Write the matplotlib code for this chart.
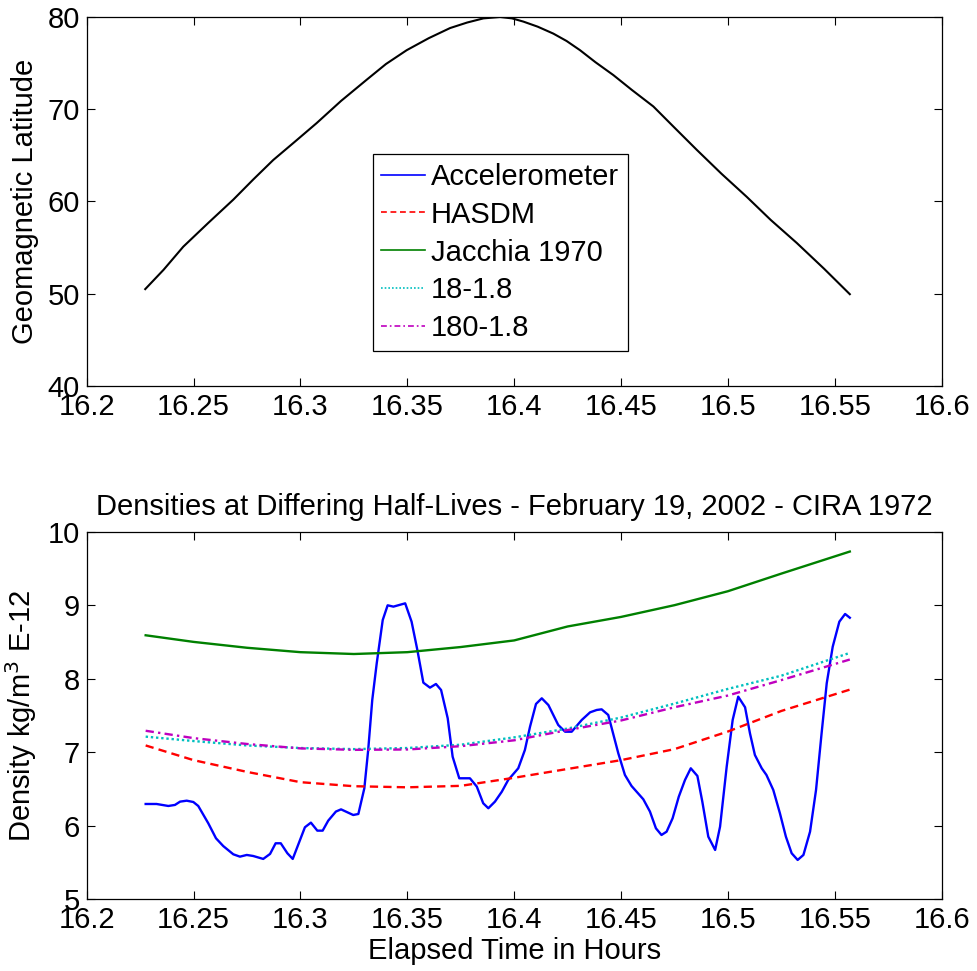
import numpy as np
import matplotlib
matplotlib.use('Agg')
import matplotlib.pyplot as plt

plt.rcParams['font.family'] = ['Liberation Sans', 'DejaVu Sans']

# x axis ticks (hours)
xticks = [16.2, 16.25, 16.3, 16.35, 16.4, 16.45, 16.5, 16.55, 16.6]
xtick_labels = ['16.2', '16.25', '16.3', '16.35', '16.4', '16.45', '16.5', '16.55', '16.6']

# top panel: geomagnetic latitude
lat_time = [16.2274, 16.236, 16.2452, 16.257, 16.2686, 16.278, 16.2873, 16.2975,
            16.3076, 16.319, 16.331, 16.340, 16.3497, 16.360, 16.370, 16.378,
            16.3856, 16.3934, 16.399, 16.4043, 16.411, 16.4183, 16.4245, 16.4308,
            16.438, 16.4464, 16.455, 16.4651, 16.475, 16.4854, 16.497, 16.5088,
            16.520, 16.5322, 16.545, 16.557]
lat_deg = [50.5, 52.6, 55.1, 57.7, 60.2, 62.4, 64.5, 66.5,
           68.5, 70.9, 73.2, 74.9, 76.4, 77.7, 78.8, 79.4,
           79.85, 80.0, 79.85, 79.5, 78.95, 78.2, 77.4, 76.4,
           75.1, 73.7, 72.1, 70.3, 68.0, 65.6, 63.0, 60.5,
           58.0, 55.5, 52.7, 49.95]

# bottom panel: model densities (common time grid)
model_time = [16.2276, 16.25, 16.275, 16.30, 16.325, 16.35, 16.375, 16.40,
              16.425, 16.45, 16.475, 16.50, 16.525, 16.557]
hasdm = [7.09, 6.89, 6.73, 6.59, 6.535, 6.52, 6.54, 6.65,
         6.77, 6.89, 7.04, 7.28, 7.56, 7.85]
jacchia = [8.59, 8.50, 8.42, 8.36, 8.335, 8.36, 8.43, 8.52,
           8.71, 8.84, 9.00, 9.19, 9.43, 9.73]
hl_18 = [7.21, 7.15, 7.09, 7.055, 7.04, 7.055, 7.10, 7.20,
         7.32, 7.47, 7.66, 7.86, 8.04, 8.35]
hl_180 = [7.29, 7.19, 7.11, 7.05, 7.03, 7.035, 7.08, 7.16,
          7.30, 7.43, 7.61, 7.77, 7.98, 8.26]

# accelerometer density
acc_time = [16.2276, 16.2327, 16.2382, 16.2413, 16.2437, 16.2468, 16.2499, 16.2522,
            16.2569, 16.2605, 16.2639, 16.2686, 16.2717, 16.2749, 16.2779, 16.2826,
            16.2858, 16.2884, 16.2908, 16.2939, 16.2964, 16.3021, 16.3049, 16.3079,
            16.3104, 16.313, 16.3166, 16.319, 16.3247, 16.3271, 16.3299, 16.3317,
            16.3336, 16.3357, 16.3385, 16.3408, 16.3435, 16.349, 16.352, 16.3547,
            16.3575, 16.3606, 16.3634, 16.3658, 16.3689, 16.3712, 16.3743, 16.3793,
            16.3825, 16.3855, 16.3879, 16.391, 16.3942, 16.3972, 16.4019, 16.405,
            16.4074, 16.4102, 16.4129, 16.416, 16.4206, 16.4238, 16.4269, 16.4316,
            16.4355, 16.4386, 16.4409, 16.444, 16.4487, 16.4518, 16.4549, 16.4604,
            16.4635, 16.4663, 16.4689, 16.4713, 16.4741, 16.477, 16.4799, 16.4826,
            16.4857, 16.488, 16.4908, 16.494, 16.4963, 16.4994, 16.5022, 16.5048,
            16.508, 16.5103, 16.5126, 16.5158, 16.518, 16.5212, 16.5243, 16.5271,
            16.5298, 16.5326, 16.5353, 16.5384, 16.5412, 16.5438, 16.5462, 16.549,
            16.5521, 16.5548, 16.557]
acc_dens = [6.293, 6.293, 6.266, 6.28, 6.325, 6.338, 6.32, 6.266,
            6.03, 5.826, 5.72, 5.608, 5.576, 5.599, 5.585, 5.545,
            5.613, 5.758, 5.758, 5.622, 5.545, 5.976, 6.039, 5.93,
            5.93, 6.066, 6.19, 6.22, 6.143, 6.157, 6.507, 7.028,
            7.709, 8.21, 8.798, 8.998, 8.98, 9.025, 8.775, 8.39,
            7.945, 7.877, 7.927, 7.845, 7.46, 6.937, 6.643, 6.643,
            6.53, 6.303, 6.235, 6.325, 6.46, 6.62, 6.779, 7.028,
            7.345, 7.655, 7.732, 7.64, 7.369, 7.277, 7.277, 7.437,
            7.541, 7.573, 7.582, 7.505, 6.983, 6.688, 6.538, 6.357,
            6.19, 5.962, 5.871, 5.916, 6.098, 6.393, 6.62, 6.779,
            6.675, 6.325, 5.848, 5.667, 5.984, 6.8, 7.437, 7.754,
            7.61, 7.254, 6.96, 6.779, 6.688, 6.484, 6.167, 5.848,
            5.622, 5.531, 5.599, 5.916, 6.484, 7.255, 7.936, 8.434,
            8.775, 8.88, 8.829]

FS = 21

fig = plt.figure(figsize=(9.77, 9.71), dpi=100)
ax1 = fig.add_axes([0.0887, 0.6025, 0.8752, 0.38])
ax2 = fig.add_axes([0.0887, 0.0742, 0.8752, 0.3782])

ax1.plot(lat_time, lat_deg, color='k', lw=1.5)
ax1.set_ylim(40, 80)
ax1.set_yticks([40, 50, 60, 70, 80])
ax1.set_ylabel('Geomagnetic Latitude', fontsize=FS, labelpad=6)

l_acc, = ax2.plot(acc_time, acc_dens, color='b', lw=1.7, label='Accelerometer')
l_has, = ax2.plot(model_time, hasdm, color='r', lw=1.7, dashes=(3.5, 2.2), label='HASDM')
l_jac, = ax2.plot(model_time, jacchia, color='#008000', lw=1.7, label='Jacchia 1970')
l_18, = ax2.plot(model_time, hl_18, color='#00bfbf', lw=1.7, dashes=(1, 1.2), label='18-1.8')
l_180, = ax2.plot(model_time, hl_180, color='#bf00bf', lw=1.7, dashes=(3.5, 1.8, 1, 1.8), label='180-1.8')
ax2.set_ylim(5, 10)
ax2.set_yticks([5, 6, 7, 8, 9, 10])
ax2.set_ylabel('Density kg/m$^3$ E-12', fontsize=FS, labelpad=6)
ax2.set_xlabel('Elapsed Time in Hours', fontsize=FS, labelpad=2)
ax2.set_title('Densities at Differing Half-Lives - February 19, 2002 - CIRA 1972',
              fontsize=FS, pad=12)

for ax in (ax1, ax2):
    ax.set_xlim(16.2, 16.6)
    ax.set_xticks(xticks)
    ax.set_xticklabels(xtick_labels)
    ax.tick_params(direction='in', top=True, right=True, length=6, width=0.8,
                   labelsize=FS, pad=5)
    for s in ax.spines.values():
        s.set_linewidth(0.9)

handles = [l_acc, l_has, l_jac, l_18, l_180]
leg = ax1.legend(handles, [h.get_label() for h in handles], loc='upper left',
                 bbox_to_anchor=(0.3345, 0.6287), borderaxespad=0, fontsize=FS,
                 handlelength=1.5, handletextpad=0.2, labelspacing=0.34,
                 borderpad=0.3, fancybox=False, framealpha=1, edgecolor='k')
leg.get_frame().set_linewidth(0.9)
for line in leg.get_lines():
    line.set_linewidth(1.2)

fig.savefig('out.png', dpi=100)
